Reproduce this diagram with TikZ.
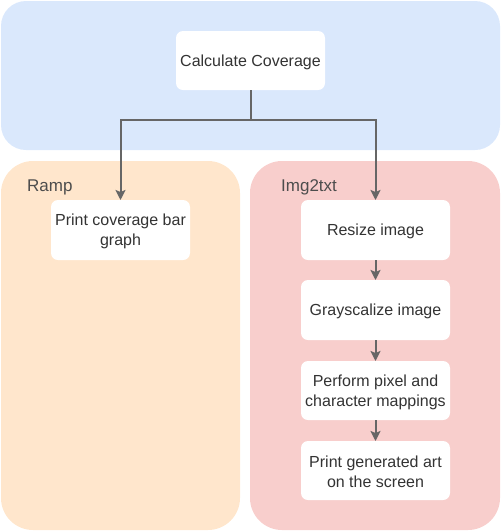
\documentclass[tikz,border=0pt]{standalone}
\usepackage{fontspec}
\setmainfont{Liberation Sans}
\usetikzlibrary{arrows.meta}
\definecolor{bluebg}{HTML}{DAE8FC}
\definecolor{orangebg}{HTML}{FFE6CC}
\definecolor{redbg}{HTML}{F8CECC}
\definecolor{txt}{HTML}{333333}
\definecolor{lbl}{HTML}{4D4D4D}
\definecolor{conn}{HTML}{666666}
\begin{document}
\begin{tikzpicture}[x=1pt,y=-1pt,
  container/.style={draw=none,inner sep=0pt,outer sep=0pt,anchor=north west},
  stepbox/.style={fill=white,draw=none,rounded corners=7pt,inner sep=0pt,outer sep=0pt,minimum height=59pt},
  steptext/.style={text=txt,align=center,font=\fontsize{16}{20}\selectfont,inner sep=0pt,yshift=-1.5pt},
  grplabel/.style={text=lbl,font=\fontsize{17}{20}\selectfont,anchor=base west,inner sep=0pt},
  arr/.style={draw=conn,line width=2pt,-{Stealth[length=10pt,width=10pt,inset=2pt]}},
  link/.style={draw=conn,line width=2pt}
]
\useasboundingbox (0,0) rectangle (501,531);
% containers
\node[container,fill=bluebg,rounded corners=25pt,minimum width=499pt,minimum height=149pt] (top) at (1,1) {};
\node[container,fill=orangebg,rounded corners=32pt,minimum width=239pt,minimum height=369pt] (ramp) at (1,161) {};
\node[container,fill=redbg,rounded corners=32pt,minimum width=250pt,minimum height=369pt] (img) at (250,161) {};
\node[grplabel] (ramplbl) at (27,191) {Ramp};
\node[grplabel] (imglbl) at (281,191) {Img2txt};
% steps
\node[stepbox,minimum width=149pt] (calc) at (250.5,60.5) {};
\node[steptext] (calct) at (calc.center) {Calculate Coverage};
\node[stepbox,minimum width=139pt,minimum height=60pt] (pcb) at (120.5,230) {};
\node[steptext] (pcbt) at (pcb.center) {Print coverage bar\\graph};
\node[stepbox,minimum width=149pt,minimum height=60pt] (resize) at (375.5,230) {};
\node[steptext] (resizet) at (resize.center) {Resize image};
\node[stepbox,minimum width=149pt,minimum height=60pt] (gray) at (375.5,310) {};
\node[steptext] (grayt) at (gray.center) {Grayscalize image};
\node[stepbox,minimum width=149pt] (perf) at (375.5,390.5) {};
\node[steptext] (perft) at (perf.center) {Perform pixel and\\character mappings};
\node[stepbox,minimum width=149pt] (art) at (375.5,470.5) {};
\node[steptext] (artt) at (art.center) {Print generated art\\on the screen};
% connectors
\coordinate (j) at (250.5,120);
\draw[link] (calc.south) -- (j);
\draw[arr] (j) -| (pcb.north);
\draw[arr] (j) -| (resize.north);
\draw[arr] (resize) -- (gray);
\draw[arr] (gray) -- (perf);
\draw[arr] (perf) -- (art);
\end{tikzpicture}
\end{document}
